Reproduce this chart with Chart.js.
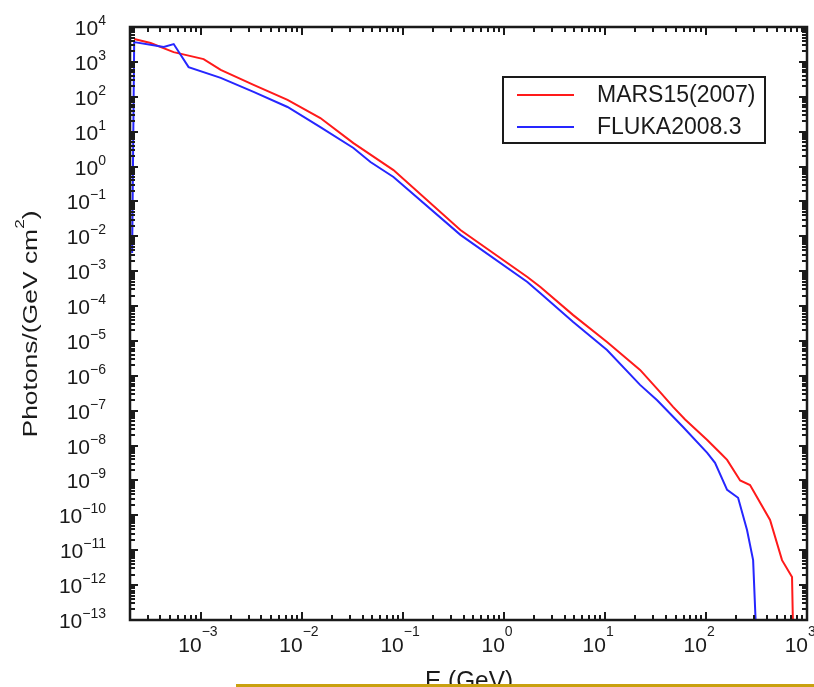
<!DOCTYPE html>
<html>
<head>
<meta charset="utf-8">
<script src="https://cdn.jsdelivr.net/npm/chart.js@4.4.1/dist/chart.umd.min.js"></script>
<style>
  html, body { margin: 0; padding: 0; background: #fff; overflow: hidden; }
  canvas { display: block; }
</style>
</head>
<body>
<canvas id="myChart" width="814" height="687"></canvas>
<script>
// photon spectra (E in GeV, flux in photons/(GeV cm^2))
const marsE = [2.2e-4, 3.2e-4, 5.4e-4, 1.07e-3, 1.58e-3, 3.34e-3, 7.24e-3, 1.53e-2, 3.25e-2, 8.09e-2, 0.372, 1.71, 2.30, 4.86, 10.5, 22.3, 35.2, 47.3, 62.2, 103, 138, 162, 218, 273, 431, 566, 711, 728];
const marsFlux = [4500, 3470, 1900, 1200, 590, 219, 81, 24.5, 4.7, 0.79, 0.0151, 6.8e-4, 3.5e-4, 5.5e-5, 9.3e-6, 1.48e-6, 3.4e-7, 1.29e-7, 5.6e-8, 1.45e-8, 6.2e-9, 3.9e-9, 1.0e-9, 7.4e-10, 7.4e-11, 5.2e-12, 1.7e-12, 5e-14];

const flukaE = [2.1e-4, 2.2e-4, 4.31e-4, 5.41e-4, 7.6e-4, 1.58e-3, 3.34e-3, 7.24e-3, 1.53e-2, 3.25e-2, 4.79e-2, 8.09e-2, 0.372, 1.71, 2.30, 4.86, 10.5, 22.3, 32.9, 59.4, 103, 123, 162, 208, 255, 293, 313];
const flukaFlux = [3.3e-3, 3700, 2690, 3240, 708, 347, 138, 51, 13.5, 3.4, 1.35, 0.50, 0.011, 4.9e-4, 2.34e-4, 3.5e-5, 5.5e-6, 5.5e-7, 2.0e-7, 3.4e-8, 6.2e-9, 3.2e-9, 5.4e-10, 3.2e-10, 3.8e-11, 5.2e-12, 5e-14];

// axes
const xMin = 2e-4, xMax = 1e3;
const yMin = 1e-13, yMax = 1e4;
const xDecades = [-3, -2, -1, 0, 1, 2, 3];
const yDecades = [-13, -12, -11, -10, -9, -8, -7, -6, -5, -4, -3, -2, -1, 0, 1, 2, 3, 4];
const minorSteps = [2, 3, 4, 5, 6, 7, 8, 9];
const xTitle = 'E (GeV)';
const yTitle = ['Photons/(GeV cm', '2', ')'];
const seriesNames = ['MARS15(2007)', 'FLUKA2008.3'];

const FONT = '"Liberation Sans", Arial, sans-serif';
const INK = '#1a1a1a';

function toPoints(xs, ys) {
    return xs.map((x, i) => ({ x: x, y: ys[i] }));
}

// every value 2..9 x 10^n that falls inside the range
function minorValues(min, max) {
    const out = [];
    for (let n = Math.floor(Math.log10(min)) - 1; n <= Math.ceil(Math.log10(max)); n++) {
        minorSteps.forEach(m => {
            const v = m * Math.pow(10, n);
            if (v > min && v < max) out.push(v);
        });
    }
    return out;
}

function expText(n) {
    return n < 0 ? '\u2212' + Math.abs(n) : String(n);
}

const framePlugin = {
    id: 'frame',
    afterDraw(chart) {
        const ctx = chart.ctx;
        const a = chart.chartArea;
        const xs = chart.scales.x;
        const ys = chart.scales.y;
        ctx.save();

        // ticks, pointing inwards on all four sides
        ctx.strokeStyle = INK;
        ctx.lineWidth = 2;
        ctx.beginPath();
        const xMajor = xDecades.map(n => Math.pow(10, n));
        const yMajor = yDecades.map(n => Math.pow(10, n));
        [[xMajor, 8], [minorValues(xMin, xMax), 5]].forEach(([vals, len]) => {
            vals.forEach(v => {
                const px = Math.round(xs.getPixelForValue(v));
                ctx.moveTo(px, a.bottom); ctx.lineTo(px, a.bottom - len);
                ctx.moveTo(px, a.top); ctx.lineTo(px, a.top + len);
            });
        });
        [[yMajor, 8], [minorValues(yMin, yMax), 5]].forEach(([vals, len]) => {
            vals.forEach(v => {
                const py = Math.round(ys.getPixelForValue(v));
                ctx.moveTo(a.left, py); ctx.lineTo(a.left + len, py);
                ctx.moveTo(a.right, py); ctx.lineTo(a.right - len, py);
            });
        });
        ctx.stroke();

        // frame
        ctx.lineWidth = 2.5;
        ctx.strokeRect(a.left, a.top, a.right - a.left, a.bottom - a.top);

        // tick labels as 10^n
        ctx.fillStyle = INK;
        const baseFont = '21px ' + FONT;
        const supFont = '14px ' + FONT;
        ctx.textAlign = 'left';
        ctx.textBaseline = 'alphabetic';
        xDecades.forEach(n => {
            const px = xs.getPixelForValue(Math.pow(10, n));
            ctx.font = baseFont;
            const bw = ctx.measureText('10').width;
            ctx.fillText('10', px + 1 - bw, a.bottom + 32);
            ctx.font = supFont;
            ctx.fillText(expText(n), px + 1, a.bottom + 16);
        });
        yDecades.forEach(n => {
            const py = ys.getPixelForValue(Math.pow(10, n));
            ctx.font = supFont;
            const ew = ctx.measureText(expText(n)).width;
            ctx.font = baseFont;
            const bw = ctx.measureText('10').width;
            const right = a.left - 24;
            ctx.fillText('10', right - ew - bw, py + 8);
            ctx.font = supFont;
            ctx.fillText(expText(n), right - ew, py - 2);
        });

        // x title
        ctx.font = '23px ' + FONT;
        ctx.textAlign = 'center';
        ctx.save();
        ctx.translate(469, 689);
        ctx.scale(88 / ctx.measureText(xTitle).width, 1.1);
        ctx.fillText(xTitle, 0, 0);
        ctx.restore();

        // y title, rotated
        ctx.save();
        ctx.translate(37, 324);
        ctx.rotate(-Math.PI / 2);
        ctx.textAlign = 'left';
        ctx.font = '20px ' + FONT;
        const w1 = ctx.measureText(yTitle[0]).width;
        const w3 = ctx.measureText(yTitle[2]).width;
        ctx.font = '13px ' + FONT;
        const w2 = ctx.measureText(yTitle[1]).width;
        const total = w1 + w2 + w3;
        ctx.scale(227 / total, 1);
        let x0 = -total / 2;
        ctx.font = '20px ' + FONT;
        ctx.fillText(yTitle[0], x0, 0);
        ctx.font = '13px ' + FONT;
        ctx.fillText(yTitle[1], x0 + w1, -13);
        ctx.font = '20px ' + FONT;
        ctx.fillText(yTitle[2], x0 + w1 + w2, 0);
        ctx.restore();

        // legend box
        ctx.lineWidth = 2;
        ctx.strokeStyle = INK;
        ctx.strokeRect(503, 77, 262, 66);
        chart.data.datasets.forEach((ds, i) => {
            const ly = 95 + i * 32;
            ctx.strokeStyle = ds.borderColor;
            ctx.lineWidth = 2;
            ctx.beginPath();
            ctx.moveTo(517, ly);
            ctx.lineTo(574, ly);
            ctx.stroke();
            ctx.fillStyle = INK;
            ctx.font = '23px ' + FONT;
            ctx.textAlign = 'left';
            ctx.fillText(ds.label, 597, ly + 7);
        });

        // gold rule at the foot of the page
        ctx.fillStyle = '#c9a10f';
        ctx.fillRect(236, 684, 578, 3);
        ctx.restore();
    }
};

const ctx = document.getElementById('myChart');
const myChart = new Chart(ctx, {
    type: 'line',
    data: {
        datasets: [
            {
                label: seriesNames[0],
                data: toPoints(marsE, marsFlux),
                borderColor: '#ff1a1a',
                borderWidth: 2,
                pointRadius: 0,
                tension: 0,
                order: 1
            },
            {
                label: seriesNames[1],
                data: toPoints(flukaE, flukaFlux),
                borderColor: '#2626ff',
                borderWidth: 2,
                pointRadius: 0,
                tension: 0,
                order: 0
            }
        ]
    },
    options: {
        responsive: false,
        animation: false,
        devicePixelRatio: 1,
        layout: {
            padding: { left: 130, top: 27, right: 7, bottom: 67 }
        },
        plugins: {
            legend: { display: false },
            tooltip: { enabled: false }
        },
        scales: {
            x: { type: 'logarithmic', min: xMin, max: xMax, display: false },
            y: { type: 'logarithmic', min: yMin, max: yMax, display: false }
        }
    },
    plugins: [framePlugin]
});
</script>
</body>
</html>
